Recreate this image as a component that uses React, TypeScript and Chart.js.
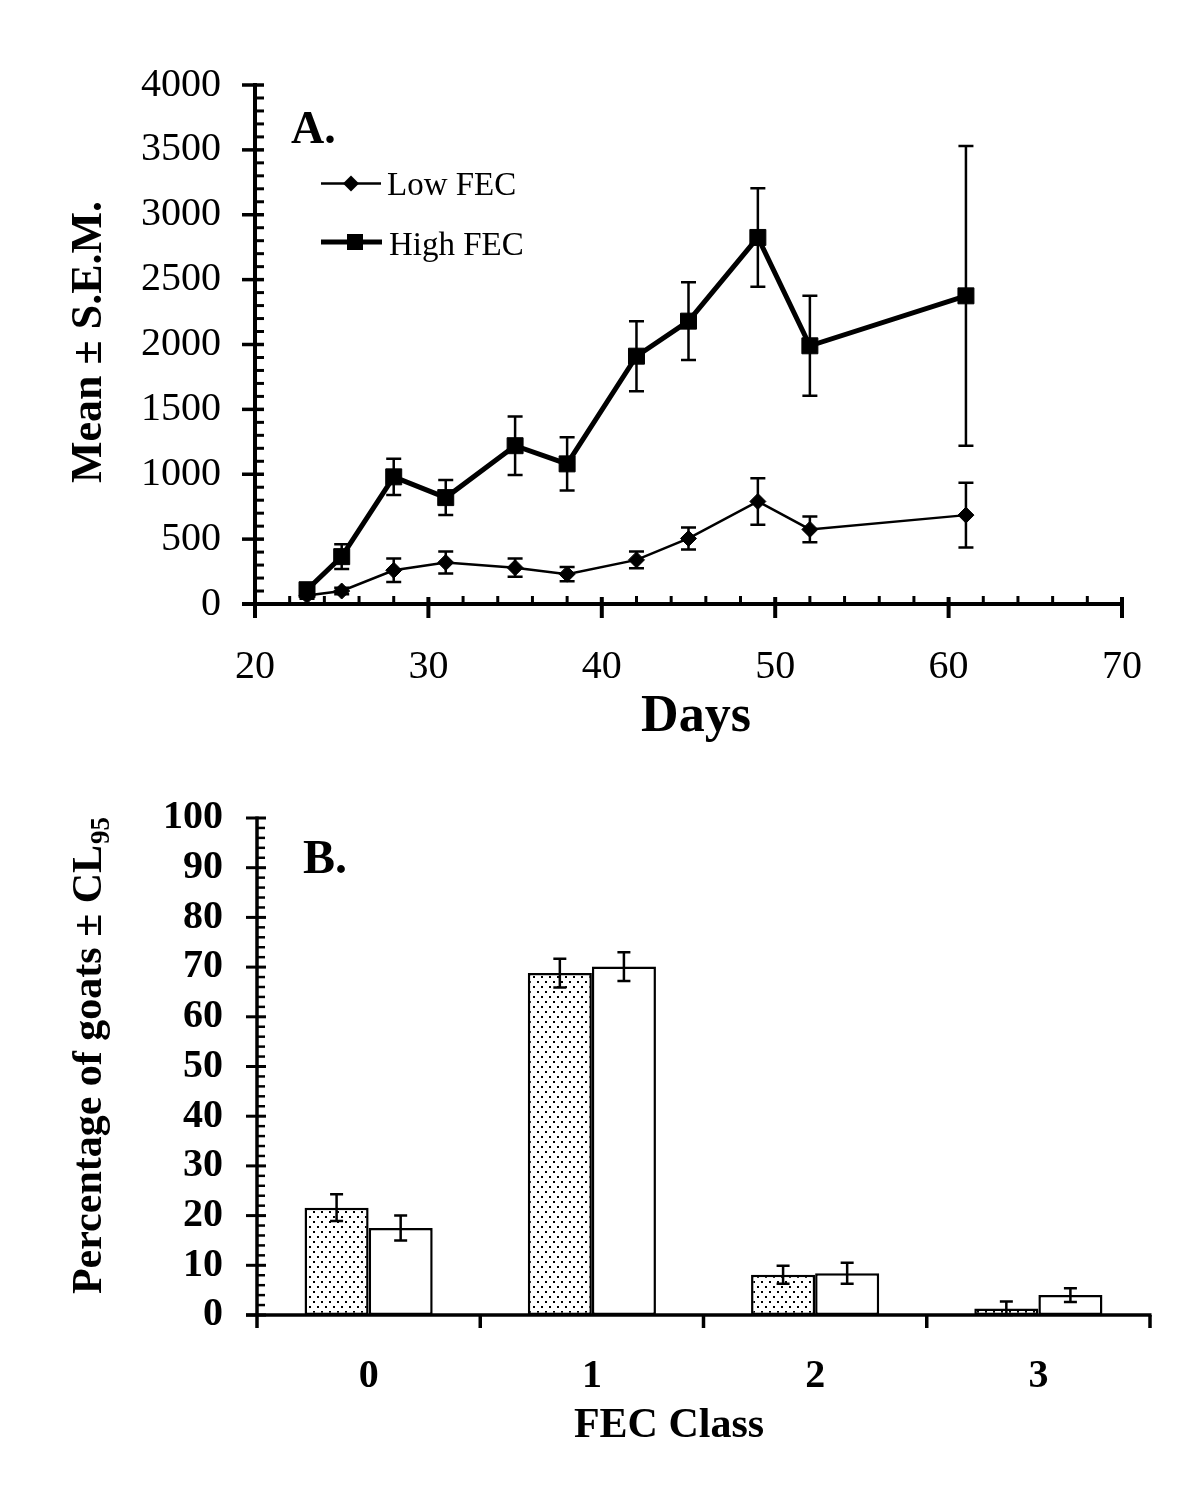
import React, { useEffect, useRef } from 'react';
import { Chart, registerables } from 'chart.js';

Chart.register(...registerables);

const SERIF = "'Liberation Serif', 'Times New Roman', Times, serif";

// ---------- Panel A data ----------
const days = [23, 25, 28, 31, 35, 38, 42, 45, 49, 52, 61];
const lowFec = [65, 100, 260, 320, 280, 230, 340, 505, 790, 575, 685];
const lowFecErr = [25, 25, 90, 85, 70, 55, 65, 85, 180, 100, 250];
const highFec = [110, 365, 980, 820, 1220, 1080, 1910, 2180, 2825, 1990, 2375];
const highFecErr = [40, 95, 140, 135, 225, 205, 270, 300, 380, 385, 1155];
const dayTicks = [20, 30, 40, 50, 60, 70];
const meanTicks = [0, 500, 1000, 1500, 2000, 2500, 3000, 3500, 4000];

// ---------- Panel B data ----------
const fecClasses = ['0', '1', '2', '3'];
const groupDotted = [21.6, 68.8, 8.1, 1.3];
const groupDottedErr = [2.7, 2.9, 1.8, 1.4];
const groupOpen = [17.5, 70.1, 8.4, 4.0];
const groupOpenErr = [2.5, 2.9, 2.1, 1.4];
const pctTicks = [0, 10, 20, 30, 40, 50, 60, 70, 80, 90, 100];

type TextItem = {
  text: string;
  x: number;
  y: number;
  font: string;
  align?: CanvasTextAlign;
  rotate?: boolean;
  sub?: string;
  subFont?: string;
};

function drawTexts(ctx: CanvasRenderingContext2D, items: TextItem[]) {
  for (const it of items) {
    ctx.save();
    ctx.fillStyle = '#000';
    ctx.textBaseline = 'alphabetic';
    if (it.rotate) {
      ctx.translate(it.x, it.y);
      ctx.rotate(-Math.PI / 2);
      ctx.font = it.font;
      const w1 = ctx.measureText(it.text).width;
      let w2 = 0;
      if (it.sub && it.subFont) {
        ctx.font = it.subFont;
        w2 = ctx.measureText(it.sub).width;
      }
      const start = -(w1 + w2) / 2;
      ctx.font = it.font;
      ctx.textAlign = 'left';
      ctx.fillText(it.text, start, 0);
      if (it.sub && it.subFont) {
        ctx.font = it.subFont;
        ctx.fillText(it.sub, start + w1 + 1, 8);
      }
    } else {
      ctx.font = it.font;
      ctx.textAlign = it.align || 'left';
      ctx.fillText(it.text, it.x, it.y);
    }
    ctx.restore();
  }
}

function line(ctx: CanvasRenderingContext2D, x1: number, y1: number, x2: number, y2: number, w: number) {
  ctx.lineWidth = w;
  ctx.beginPath();
  ctx.moveTo(x1, y1);
  ctx.lineTo(x2, y2);
  ctx.stroke();
}

function errBar(ctx: CanvasRenderingContext2D, x: number, yTop: number, yBot: number, cap: number, w: number) {
  ctx.lineWidth = w;
  ctx.beginPath();
  ctx.moveTo(x, yTop);
  ctx.lineTo(x, yBot);
  ctx.moveTo(x - cap / 2, yTop);
  ctx.lineTo(x + cap / 2, yTop);
  ctx.moveTo(x - cap / 2, yBot);
  ctx.lineTo(x + cap / 2, yBot);
  ctx.stroke();
}

const panelAPlugin = {
  id: 'panelA',
  afterDatasetsDraw(chart: any) {
    const ctx: CanvasRenderingContext2D = chart.ctx;
    const xs = chart.scales.x;
    const ys = chart.scales.y;
    ctx.save();
    ctx.strokeStyle = '#000';
    ctx.fillStyle = '#000';
    ctx.lineCap = 'butt';

    // error bars
    const errs = [lowFecErr, highFecErr];
    const vals = [lowFec, highFec];
    [0, 1].forEach((d) => {
      const meta = chart.getDatasetMeta(d);
      meta.data.forEach((pt: any, i: number) => {
        const yt = ys.getPixelForValue(vals[d][i] + errs[d][i]);
        const yb = ys.getPixelForValue(Math.max(0, vals[d][i] - errs[d][i]));
        errBar(ctx, pt.x, yt, yb, 15, 2.5);
      });
    });

    // axes
    const xL = xs.getPixelForValue(20);
    const xR = xs.getPixelForValue(70);
    const y0 = ys.getPixelForValue(0);
    const yT = ys.getPixelForValue(4000);
    line(ctx, xL, yT - 2, xL, y0 + 14, 4);
    line(ctx, xL - 13, y0, xR + 2, y0, 4);
    for (let v = 0; v <= 4000; v += 100) {
      const y = ys.getPixelForValue(v);
      if (v % 500 === 0) line(ctx, xL - 13, y, xL + 9, y, 3.5);
      else line(ctx, xL, y, xL + 9, y, 3);
    }
    for (let d = 20; d <= 70; d += 2) {
      const x = xs.getPixelForValue(d);
      if (d % 10 === 0) line(ctx, x, y0 - 7, x, y0 + 14, 4);
      else line(ctx, x, y0 - 8, x, y0, 3);
    }

    // legend
    const low = chart.data.datasets[0];
    const high = chart.data.datasets[1];
    line(ctx, 321, 183.5, 381, 183.5, low.borderWidth);
    ctx.beginPath();
    ctx.moveTo(351, 175.5);
    ctx.lineTo(359, 183.5);
    ctx.lineTo(351, 191.5);
    ctx.lineTo(343, 183.5);
    ctx.closePath();
    ctx.fill();
    line(ctx, 321, 242, 382, 242, high.borderWidth);
    ctx.fillRect(347, 234, 16, 16);
    ctx.restore();

    drawTexts(ctx, [
      { text: 'Low FEC', x: 387, y: 195, font: `33px ${SERIF}` },
      { text: 'High FEC', x: 389, y: 255, font: `33px ${SERIF}` },
      { text: 'A.', x: 291, y: 143, font: `bold 46px ${SERIF}` },
      { text: 'Mean \u00b1 S.E.M.', x: 101, y: 342, font: `bold 44px ${SERIF}`, rotate: true },
      { text: 'Days', x: 696, y: 731, font: `bold 52px ${SERIF}`, align: 'center' },
    ]);
  },
};

const B_OFF = 760;

const panelBPlugin = {
  id: 'panelB',
  afterDatasetsDraw(chart: any) {
    const ctx: CanvasRenderingContext2D = chart.ctx;
    const xs = chart.scales.x;
    const ys = chart.scales.y;
    ctx.save();
    ctx.strokeStyle = '#000';
    ctx.lineCap = 'butt';

    const vals = [groupDotted, groupOpen];
    const errs = [groupDottedErr, groupOpenErr];
    [0, 1].forEach((d) => {
      const meta = chart.getDatasetMeta(d);
      meta.data.forEach((bar: any, i: number) => {
        const yt = ys.getPixelForValue(vals[d][i] + errs[d][i]);
        const yb = ys.getPixelForValue(Math.max(0, vals[d][i] - errs[d][i]));
        errBar(ctx, bar.x, yt, yb, 13, 2.5);
      });
    });

    const xL = xs.left;
    const xR = xs.right;
    const y0 = ys.getPixelForValue(0);
    const yT = ys.getPixelForValue(100);
    line(ctx, xL, yT - 1.5, xL, y0 + 13, 3.5);
    line(ctx, xL - 11, y0, xR + 1.5, y0, 3.5);
    for (let v = 0; v <= 100; v += 2) {
      const y = ys.getPixelForValue(v);
      if (v % 10 === 0) line(ctx, xL - 11, y, xL + 9, y, 3);
      else line(ctx, xL, y, xL + 8, y, 2.5);
    }
    const n = fecClasses.length;
    for (let k = 1; k <= n; k++) {
      const x = xL + (k * (xR - xL)) / n;
      line(ctx, x, y0, x, y0 + 13, 3.5);
    }
    ctx.restore();

    drawTexts(ctx, [
      { text: 'B.', x: 303, y: 873 - B_OFF, font: `bold 48px ${SERIF}` },
      {
        text: 'Percentage of goats \u00b1 CL',
        x: 101,
        y: 1056 - B_OFF,
        font: `bold 42px ${SERIF}`,
        rotate: true,
        sub: '95',
        subFont: `bold 27px ${SERIF}`,
      },
      { text: 'FEC Class', x: 669, y: 1437 - B_OFF, font: `bold 42px ${SERIF}`, align: 'center' },
    ]);
  },
};

function makeDots(): CanvasPattern | string {
  const c = document.createElement('canvas');
  c.width = 8;
  c.height = 10;
  const g = c.getContext('2d');
  if (!g) return '#ccc';
  g.fillStyle = '#fff';
  g.fillRect(0, 0, 8, 10);
  g.fillStyle = '#000';
  g.fillRect(1, 1, 2, 2);
  g.fillRect(5, 6, 2, 2);
  return g.createPattern(c, 'repeat') || '#ccc';
}

export default function App() {
  const refA = useRef<HTMLCanvasElement>(null);
  const refB = useRef<HTMLCanvasElement>(null);

  useEffect(() => {
    if (!refA.current || !refB.current) return;

    const chartA = new Chart(refA.current, {
      type: 'line',
      data: {
        datasets: [
          {
            label: 'Low FEC',
            data: days.map((d, i) => ({ x: d, y: lowFec[i] })),
            borderColor: '#000',
            backgroundColor: '#000',
            borderWidth: 2.5,
            pointStyle: 'rectRot',
            pointRadius: 8,
            pointBorderWidth: 1,
            pointBackgroundColor: '#000',
            pointBorderColor: '#000',
            tension: 0,
          },
          {
            label: 'High FEC',
            data: days.map((d, i) => ({ x: d, y: highFec[i] })),
            borderColor: '#000',
            backgroundColor: '#000',
            borderWidth: 5,
            pointStyle: 'rect',
            pointRadius: 11.3,
            pointBorderWidth: 1,
            pointBackgroundColor: '#000',
            pointBorderColor: '#000',
            tension: 0,
          },
        ],
      },
      options: {
        animation: false,
        responsive: false,
        devicePixelRatio: 1,
        layout: { padding: { left: 0, right: 78, top: 85, bottom: 0 } },
        plugins: { legend: { display: false }, tooltip: { enabled: false } },
        scales: {
          x: {
            type: 'linear',
            min: 20,
            max: 70,
            afterFit: (s: any) => {
              s.height = 156;
            },
            afterBuildTicks: (s: any) => {
              s.ticks = dayTicks.map((v) => ({ value: v }));
            },
            grid: { display: false, drawTicks: false },
            border: { display: false },
            ticks: {
              font: { family: SERIF, size: 40 },
              color: '#000',
              padding: 39,
              maxRotation: 0,
              autoSkip: false,
              callback: (v: any) => String(v),
            },
          },
          y: {
            type: 'linear',
            min: 0,
            max: 4000,
            afterFit: (s: any) => {
              s.width = 255;
            },
            afterBuildTicks: (s: any) => {
              s.ticks = meanTicks.map((v) => ({ value: v }));
            },
            grid: { display: false, drawTicks: false },
            border: { display: false },
            ticks: {
              font: { family: SERIF, size: 40 },
              color: '#000',
              padding: 34,
              autoSkip: false,
              callback: (v: any) => String(v),
            },
          },
        },
      },
      plugins: [panelAPlugin],
    } as any);

    const dots = makeDots();
    const chartB = new Chart(refB.current, {
      type: 'bar',
      data: {
        labels: fecClasses,
        datasets: [
          {
            label: 'Dotted group',
            data: groupDotted,
            backgroundColor: dots as any,
            borderColor: '#000',
            borderWidth: 2.5,
            borderSkipped: false,
          },
          {
            label: 'Open group',
            data: groupOpen,
            backgroundColor: '#fff',
            borderColor: '#000',
            borderWidth: 2.5,
            borderSkipped: false,
          },
        ],
      },
      options: {
        animation: false,
        responsive: false,
        devicePixelRatio: 1,
        layout: { padding: { left: 0, right: 50, top: 57, bottom: 0 } },
        plugins: { legend: { display: false }, tooltip: { enabled: false } },
        datasets: { bar: { categoryPercentage: 0.574, barPercentage: 1 } },
        scales: {
          x: {
            type: 'category',
            afterFit: (s: any) => {
              s.height = 192;
            },
            grid: { display: false, drawTicks: false },
            border: { display: false },
            ticks: {
              font: { family: SERIF, size: 40, weight: 'bold' },
              color: '#000',
              padding: 38,
              maxRotation: 0,
            },
          },
          y: {
            type: 'linear',
            min: 0,
            max: 100,
            afterFit: (s: any) => {
              s.width = 257;
            },
            afterBuildTicks: (s: any) => {
              s.ticks = pctTicks.map((v) => ({ value: v }));
            },
            grid: { display: false, drawTicks: false },
            border: { display: false },
            ticks: {
              font: { family: SERIF, size: 40, weight: 'bold' },
              color: '#000',
              padding: 34,
              autoSkip: false,
              callback: (v: any) => String(v),
            },
          },
        },
      },
      plugins: [panelBPlugin],
    } as any);

    return () => {
      chartA.destroy();
      chartB.destroy();
    };
  }, []);

  return (
    <div style={{ position: 'absolute', left: 0, top: 0, width: 1200, height: 1507, background: '#fff' }}>
      <canvas
        ref={refA}
        width={1200}
        height={760}
        style={{ position: 'absolute', left: 0, top: 0, width: 1200, height: 760 }}
      />
      <canvas
        ref={refB}
        width={1200}
        height={747}
        style={{ position: 'absolute', left: 0, top: B_OFF, width: 1200, height: 747 }}
      />
    </div>
  );
}
